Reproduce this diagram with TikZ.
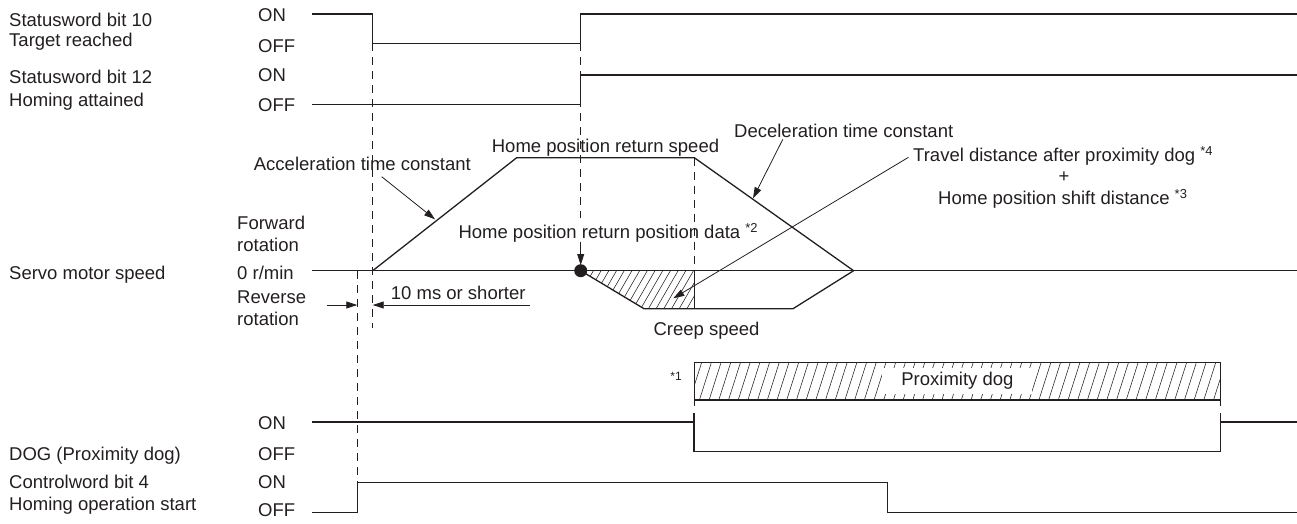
\documentclass[tikz,border=0pt]{standalone}
\usepackage{fontspec}
\setmainfont{Liberation Sans}
\usetikzlibrary{arrows.meta}
\definecolor{ink}{RGB}{35,31,32}
\begin{document}
\begin{tikzpicture}[x=1pt,y=-1pt,
  every node/.style={font=\fontsize{18.5}{22}\selectfont, text=ink, inner sep=0pt},
  lbl/.style={anchor=base west},
  sig/.style={draw=ink, line width=1.3pt},
  thinl/.style={draw=ink, line width=0.6pt},
  hatch/.style={draw=ink, line width=0.55pt},
  dsh/.style={draw=ink, line width=0.8pt, dash pattern=on 8pt off 6pt},
  arr/.style={draw=ink, line width=0.8pt, -{Triangle[length=11pt,width=7pt]}},
  sml/.style={font=\fontsize{12}{14}\selectfont}]
\useasboundingbox (0,0) rectangle (1297,523);

% ---- left labels ----
\node[lbl] (l1a) at (9,26) {Statusword bit 10};
\node[lbl] (l1b) at (9,46) {Target reached};
\node[lbl] (l2a) at (9,83.3) {Statusword bit 12};
\node[lbl] (l2b) at (9,106) {Homing attained};
\node[lbl] (l3) at (9,279.3) {Servo motor speed};
\node[lbl] (l4) at (9,460) {DOG (Proximity dog)};
\node[lbl] (l5a) at (9,488.3) {Controlword bit 4};
\node[lbl] (l5b) at (9,510) {Homing operation start};

% ---- ON/OFF labels ----
\node[lbl] (on1) at (258,21.7) {ON};
\node[lbl] (off1) at (258,52.7) {OFF};
\node[lbl] (on2) at (258,81.7) {ON};
\node[lbl] (off2) at (258,111) {OFF};
\node[lbl] (on4) at (258,429.3) {ON};
\node[lbl] (off4) at (258,460) {OFF};
\node[lbl] (on5) at (258,488.3) {ON};
\node[lbl] (off5) at (258,516.7) {OFF};

\node[lbl] (fw1) at (237,229) {Forward};
\node[lbl] (fw2) at (237,251.3) {rotation};
\node[lbl] (zr) at (237,279.3) {0 r/min};
\node[lbl] (rv1) at (237,303.3) {Reverse};
\node[lbl] (rv2) at (237,325.3) {rotation};

% ---- dashed guide lines ----
\draw[dsh] (372.7,43.3) -- (372.7,328);
\draw[dsh] (357.3,271) -- (357.3,482.7);
\draw[dsh] (580.7,43.3) -- (580.7,218);
\draw[dsh] (694.3,157.7) -- (694.3,270.7);

% ---- Statusword bit 10 ----
\draw[sig] (311.7,14) -- (372.7,14) -- (372.7,43.3) -- (580.7,43.3) -- (580.7,14) -- (1297,14);
% ---- Statusword bit 12 ----
\draw[sig] (311.7,104.3) -- (580.7,104.3) -- (580.7,75) -- (1297,75);

% ---- speed ----
\begin{scope}
\clip (580.7,270.7) -- (644,308.7) -- (694.3,308.7) -- (694.3,270.7) -- cycle;
\foreach \i in {0,...,20} \draw[hatch] ({556+7.7*\i},308.7) -- ({578+7.7*\i},270.7);
\end{scope}
\draw[sig] (311.7,270.7) -- (1297,270.7);
\draw[sig] (372.7,270.7) -- (516.7,157.7) -- (694.3,157.7) -- (853.6,270.7);
\draw[sig] (580.7,270.7) -- (644,308.7) -- (793,308.7) -- (853.6,270.7);
\draw[sig] (694.3,270.7) -- (694.3,308.7);
\fill[ink] (580.7,270.7) circle (6.5pt);

% ---- speed labels and arrows ----
\node[lbl] (acc) at (253.7,170) {Acceleration time constant};
\node[anchor=base] (hprs) at (605.5,152.6) {Home position return speed};
\node[lbl] (hprpd) at (458.3,238.6) {Home position return position data \textsuperscript{*2}};
\node[lbl] (creep) at (653.3,335.6) {Creep speed};
\node[lbl] (dec) at (734,137.3) {Deceleration time constant};
\node[lbl] (trv) at (913,161.6) {Travel distance after proximity dog \textsuperscript{*4}};
\node (plus) at (1064,176.7) {+};
\node[lbl] (shift) at (938,204.3) {Home position shift distance \textsuperscript{*3}};
\node[lbl] (tenms) at (390.7,299.3) {10 ms or shorter};

\coordinate (accS) at (381.7,176.7);
\coordinate (accE) at (435,219.3);
\coordinate (decS) at (782.8,139.3);
\coordinate (decE) at (753,198.3);
\coordinate (trvS) at (908.5,157.3);
\coordinate (trvE) at (673.3,298.3);
\coordinate (hpS) at (580.7,241.7);
\coordinate (hpE) at (580.7,265);
\draw[arr] (accS) -- (accE);
\draw[arr] (decS) -- (decE);
\draw[arr] (trvS) -- (trvE);
\draw[arr] (hpS) -- (hpE);

\coordinate (t1S) at (326.7,305);
\coordinate (t1E) at (357.3,305);
\coordinate (t2S) at (530,305);
\coordinate (t2E) at (372.7,305);
\draw[arr] (t1S) -- (t1E);
\draw[arr] (t2S) -- (t2E);

% ---- proximity dog box ----
\begin{scope}
\clip (694,362.3) rectangle (1220.6,400);
\foreach \i in {0,...,56} \draw[hatch] ({680+9.7*\i},400) -- ({692+9.7*\i},362.3);
\end{scope}
\node[fill=white, minimum width=150pt, minimum height=26pt] (pdog) at (957.4,380.7) {Proximity dog};
\draw[sig] (694,362.3) -- (1220.6,362.3);
\draw[sig] (694,400) -- (1220.6,400);
\draw[thinl] (694,362.3) -- (694,406);
\draw[thinl] (1220.6,362.3) -- (1220.6,406);
\node[sml] (s1) at (676,376) {*1};

% ---- DOG ----
\draw[sig] (311.7,422) -- (694,422);
\draw[sig] (694,413) -- (694,451.5) -- (1220.6,451.5) -- (1220.6,413);
\draw[sig] (1220.6,422) -- (1297,422);

% ---- Controlword bit 4 ----
\draw[sig] (311.7,512.7) -- (357.3,512.7) -- (357.3,482.7) -- (887.3,482.7) -- (887.3,512.7) -- (1297,512.7);
\end{tikzpicture}
\end{document}
